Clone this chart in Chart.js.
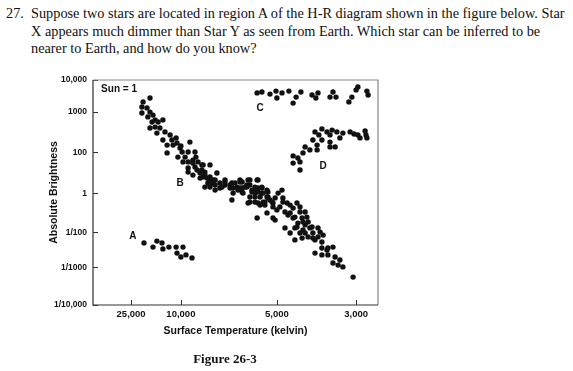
<!DOCTYPE html>
<html>
<head>
<meta charset="utf-8">
<script src="https://cdn.jsdelivr.net/npm/chart.js@4.4.0/dist/chart.umd.min.js"></script>
<style>
  html, body { margin: 0; padding: 0; background: #fff; }
  #wrap { position: relative; width: 573px; height: 371px; overflow: hidden; }
  #hr-chart { position: absolute; left: 0; top: 0; }
  .q { position: absolute; white-space: nowrap; font-family: "Liberation Serif", "Times New Roman", serif;
       font-size: 14.3px; line-height: 17.5px; color: #111; }
  #caption { position: absolute; left: 175px; width: 100px; top: 351px; text-align: center;
             font-family: "Liberation Serif", "Times New Roman", serif; font-weight: bold; font-size: 13px; color: #111; }
</style>
</head>
<body>
<div id="wrap">
  <div class="q" style="left:6px; top:5px;">27.</div>
  <div class="q" style="left:31px; top:5px;">Suppose two stars are located in region A of the H-R diagram shown in the figure below. Star<br>X appears much dimmer than Star Y as seen from Earth. Which star can be inferred to be<br>nearer to Earth, and how do you know?</div>
  <canvas id="hr-chart" width="573" height="371"></canvas>
  <div id="caption">Figure 26-3</div>
</div>
<script>
// H-R diagram (Figure 26-3). Axis units are the figure's own (uneven) tick spacing.

// --- Axis ticks ---
const xTickValues = [12.7, 29.3, 61.3, 87.7];
const xTickLabels = ['25,000', '10,000', '5,000', '3,000'];
const yTickValues = [0, 12.6, 24.2, 37.2, 50.9, 64.4, 75];
const yTickLabels = ['1/10,000', '1/1000', '1/100', '1', '100', '1000', '10,000'];

// --- Star groups [temperature, brightness] ---
const mainSequence = [
  [19.0,69.0],[16.7,67.7],[16.3,66.0],[18.0,65.7],[19.0,64.3],[16.3,64.0],[20.0,63.3],[18.3,62.7],
  [20.7,61.7],[19.7,61.0],[21.7,61.0],[23.3,61.7],[20.7,59.3],[22.3,59.0],[19.0,59.0],[21.3,57.3],
  [24.0,57.7],[23.3,55.0],[25.7,56.7],[27.7,55.7],[26.3,55.0],[24.7,53.3],[26.7,53.3],[28.0,54.0],
  [32.3,54.3],[29.3,53.0],[29.0,52.3],[24.7,50.7],[29.7,51.0],[31.7,51.0],[34.0,51.0],[28.3,49.3],
  [30.7,49.3],[34.3,49.3],[30.0,47.7],[31.7,47.7],[33.3,48.3],[35.0,47.7],[31.7,45.7],[34.0,46.0],
  [36.3,46.7],[39.0,46.7],[33.3,43.3],[35.7,44.0],[37.3,44.3],[35.7,42.3],[38.0,42.3],[38.3,40.7],
  [37.3,39.3],[31.7,44.3],[41.3,44.0],[39.0,41.7],[40.7,40.0],[40.7,38.3],[42.3,39.0],[44.0,41.7],
  [44.0,40.0],[45.7,39.0],[46.3,35.0],[46.7,37.3],[48.3,38.3],[49.7,41.0],[50.0,37.3],[51.3,39.3],
  [52.3,41.7],[53.0,38.3],[52.3,34.3],[54.0,37.3],[55.0,41.7],[55.0,39.0],[54.7,29.0],[56.3,37.3],
  [56.7,34.3],[58.0,36.0],[57.3,33.3],[58.3,37.7],[59.0,35.0],[58.0,30.7],[60.0,34.0],[60.7,35.7],
  [60.7,28.3],[61.3,31.7],[62.3,32.7],[63.0,38.3],[63.3,35.7],[64.0,31.0],[64.7,34.0],[64.0,25.7],
  [65.7,30.7],[65.7,24.0],[66.7,32.3],[67.3,29.3],[68.0,34.0],[68.3,27.3],[67.3,25.7],[69.0,32.7],
  [69.7,29.0],[67.3,21.7],[69.0,24.0],[70.7,31.0],[70.7,26.7],[71.3,29.3],[70.0,25.0],[71.7,22.7],
  [72.3,25.7],[73.3,24.0],[74.0,21.7],[75.0,25.7],[75.0,22.7],[76.3,21.0],[76.7,23.3],[74.0,17.3],
  [76.3,19.0],[78.0,18.3],[80.0,19.3],[76.3,16.7],[78.3,16.7],[80.7,16.0],[80.0,14.0],[82.3,15.0],
  [81.7,13.3],[83.3,12.7],[86.7,9.3],
  [36.7,42.7],[39.0,40.0],[46.3,40.7],[49.0,41.7],[48.0,39.3],[49.7,39.0],[51.3,40.0],[54.7,38.3],
  [56.3,39.0],[54.0,36.0],[55.7,36.0],[58.3,35.7],[59.7,34.3],[61.7,37.3],[55.7,33.3],[60.0,32.7],
  [63.3,34.3],[60.0,29.0],[65.7,33.3],[65.0,30.0],[66.7,29.0],[69.0,31.0],[70.0,27.7],[68.0,26.0],
  [71.7,27.7],[73.0,26.0],[70.7,24.0],[75.7,24.3],[69.7,22.3],[73.3,22.3],[78.3,19.0],
  [43.0,39.3],[40.0,41.7],
  [33.3,47.3],[36.7,46.7],[34.7,45.0],[36.3,45.0],[37.3,43.3],[39.0,42.7],[40.0,40.7],[40.7,41.7],
  [42.3,40.7],[44.0,41.0],[45.7,40.0],[46.7,39.0],[47.3,40.7],[49.0,41.0],[49.0,39.0],[49.7,37.7],
  [50.7,39.3],[51.7,41.7],[52.3,40.0],[53.0,37.7],[54.0,39.3],[54.7,41.7],[55.0,37.7],[56.3,39.3],
  [56.7,37.3],[58.0,38.3],[58.3,36.0],[52.3,36.0],[54.0,34.3],[55.0,34.0],[51.7,34.0],[57.3,34.3],
  [39.0,39.3]
];
const supergiants = [
  [54.7,70.7],[56.3,71.0],[59.0,70.3],[61.0,71.3],[61.3,69.0],[63.0,70.7],[65.3,71.3],[66.7,67.3],
  [67.7,69.3],[69.3,71.0],[73.0,70.0],[74.3,69.0],[75.0,70.7],[79.0,69.3],[80.0,71.0],[81.0,69.3],
  [85.3,67.7],[86.3,69.3],[87.7,71.7],[88.3,72.7],[91.3,71.3],[91.7,70.0]
];
const giants = [
  [74.0,57.7],[76.3,58.7],[75.3,56.7],[78.0,57.7],[79.0,56.7],[79.7,58.3],[81.3,57.7],[83.3,57.3],
  [82.3,55.7],[85.7,57.7],[87.0,57.0],[88.3,56.7],[89.0,55.7],[90.7,58.0],[91.0,56.7],[91.3,55.7],
  [73.3,55.0],[76.3,55.0],[79.0,54.3],[74.7,53.3],[79.0,52.7],[80.7,52.7],[70.7,52.7],[72.3,51.7],
  [74.7,51.7],[70.0,50.7],[66.7,49.7],[68.3,49.0],[66.7,47.3],[69.0,47.7],[69.0,45.0]
];
const whiteDwarfs = [
  [17.0,20.7],[20.0,19.3],[21.3,21.3],[23.0,20.7],[23.3,18.7],[25.3,19.3],[27.7,19.3],[28.0,17.3],
  [30.0,19.3],[29.3,16.0],[31.0,16.7],[33.0,15.7]
];

// --- Region letters and their anchor in axis units ---
const regionNames = ['A', 'B', 'C', 'D'];
const regionX = [13.3, 29.0, 55.7, 76.7];
const regionY = [23.0, 40.7, 65.7, 46.3];

const SANS = '"Liberation Sans", Arial, Helvetica, sans-serif';
const INK = '#111';

function toPoints(list) {
  return list.map(p => ({ x: p[0], y: p[1] }));
}

function starSet(label, list) {
  return {
    label: label,
    data: toPoints(list),
    pointRadius: 2.7,
    pointHoverRadius: 2.7,
    backgroundColor: INK,
    borderWidth: 0
  };
}

// frame, inward ticks and the text inside the plot
const framePlugin = {
  id: 'frame',
  afterDraw(chart) {
    const { ctx, chartArea: a, scales: { x, y } } = chart;
    ctx.save();
    ctx.strokeStyle = '#333';
    ctx.lineWidth = 1;
    x.ticks.forEach(t => {
      const px = Math.round(x.getPixelForValue(t.value)) + 0.5;
      ctx.beginPath(); ctx.moveTo(px, a.bottom); ctx.lineTo(px, a.bottom - 5); ctx.stroke();
    });
    y.ticks.forEach(t => {
      const py = Math.round(y.getPixelForValue(t.value)) + 0.5;
      ctx.beginPath(); ctx.moveTo(a.left, py); ctx.lineTo(a.left + 5, py); ctx.stroke();
    });

    ctx.lineWidth = 1.2;
    ctx.strokeStyle = '#888';
    ctx.beginPath();
    ctx.moveTo(a.left, a.top); ctx.lineTo(a.right, a.top); ctx.lineTo(a.right, a.bottom);
    ctx.stroke();
    ctx.strokeStyle = '#333';
    ctx.beginPath();
    ctx.moveTo(a.left, a.top); ctx.lineTo(a.left, a.bottom); ctx.lineTo(a.right, a.bottom);
    ctx.stroke();

    ctx.fillStyle = INK;
    ctx.font = 'bold 10px ' + SANS;
    ctx.textAlign = 'center';
    ctx.textBaseline = 'middle';
    regionNames.forEach((n, i) => {
      ctx.fillText(n, x.getPixelForValue(regionX[i]), y.getPixelForValue(regionY[i]));
    });
    ctx.textAlign = 'left';
    ctx.fillText('Sun = 1', x.getPixelForValue(2.7), y.getPixelForValue(72));
    ctx.restore();
  }
};

new Chart(document.getElementById('hr-chart').getContext('2d'), {
  type: 'scatter',
  data: {
    datasets: [
      starSet('Main sequence', mainSequence),
      starSet('Supergiants', supergiants),
      starSet('Giants', giants),
      starSet('White dwarfs', whiteDwarfs)
    ]
  },
  options: {
    responsive: false,
    animation: false,
    layout: { padding: { left: 40, top: 80, right: 195, bottom: 31 } },
    plugins: { legend: { display: false }, tooltip: { enabled: false } },
    scales: {
      x: {
        type: 'linear',
        min: 0,
        max: 95,
        grid: { display: false, drawTicks: false },
        border: { display: false },
        afterBuildTicks: s => { s.ticks = xTickValues.map(v => ({ value: v })); },
        afterFit: s => { s.height = 35; },
        ticks: {
          autoSkip: false,
          maxRotation: 0,
          padding: 4,
          color: INK,
          font: { family: SANS, size: 9.5, weight: 'bold' },
          callback: (v, i) => xTickLabels[i]
        },
        title: {
          display: true,
          text: 'Surface Temperature (kelvin)',
          color: INK,
          font: { family: SANS, size: 10.5, weight: 'bold' },
          padding: { top: 0, bottom: 3 }
        }
      },
      y: {
        type: 'linear',
        min: 0,
        max: 75,
        grid: { display: false, drawTicks: false },
        border: { display: false },
        afterBuildTicks: s => { s.ticks = yTickValues.map(v => ({ value: v })); },
        afterFit: s => { s.width = 53; },
        ticks: {
          autoSkip: false,
          padding: 6,
          color: INK,
          font: { family: SANS, size: 8.5, weight: 'bold' },
          callback: (v, i) => yTickLabels[i]
        },
        title: {
          display: true,
          text: 'Absolute Brightness',
          color: INK,
          font: { family: SANS, size: 10.5, weight: 'bold' },
          padding: { top: 8, bottom: 0 }
        }
      }
    }
  },
  plugins: [framePlugin]
});
</script>
</body>
</html>
